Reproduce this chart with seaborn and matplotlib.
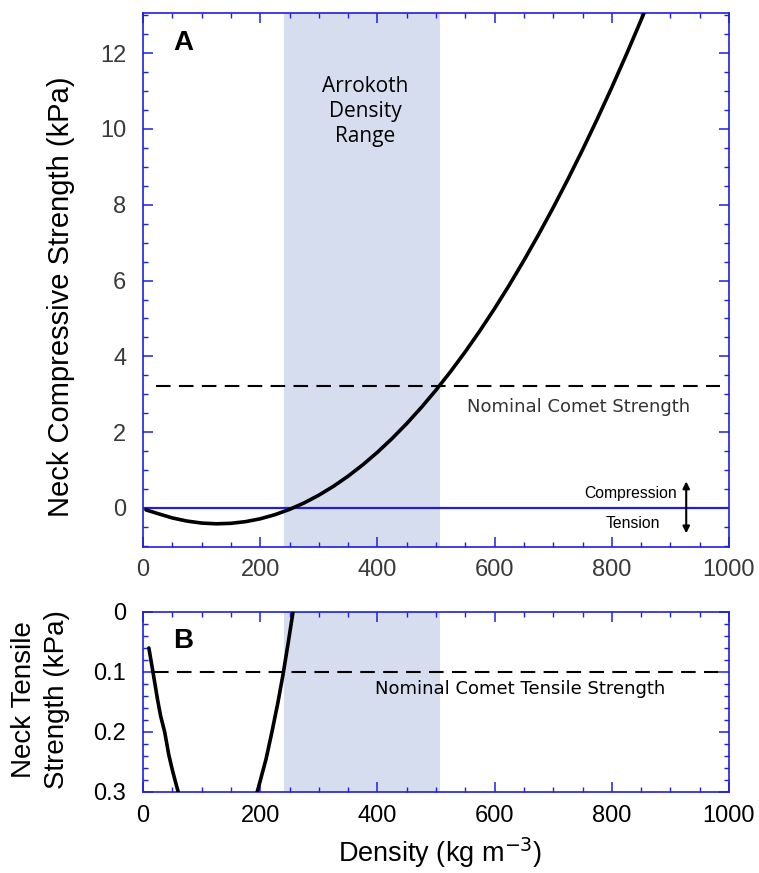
import numpy as np
import seaborn as sns
import matplotlib.pyplot as plt
from matplotlib.ticker import MultipleLocator

# values
density = [5, 25, 50, 75, 100, 125, 150, 175, 200, 225, 250, 275, 300, 325, 350,
           375, 400, 425, 450, 475, 500, 525, 550, 575, 600, 625, 650, 675, 700,
           725, 750, 775, 800, 825, 850, 875]
compressive_kpa = [-0.05, -0.147, -0.263, -0.346, -0.398, -0.418, -0.405, -0.361,
                   -0.286, -0.178, -0.038, 0.133, 0.337, 0.572, 0.839, 1.138, 1.469,
                   1.832, 2.226, 2.653, 3.111, 3.601, 4.123, 4.677, 5.263, 5.880,
                   6.531, 7.213, 7.925, 8.671, 9.448, 10.257, 11.098, 11.970, 12.875,
                   13.81]

tension_density = [10, 17, 25, 30, 37, 44, 50, 57, 63, 75, 100, 125, 150, 175, 196,
                   210, 220, 230, 239, 248, 256]
tension_kpa = [0.06, 0.10, 0.147, 0.173, 0.20, 0.238, 0.263, 0.289, 0.31, 0.346,
               0.398, 0.418, 0.405, 0.361, 0.296, 0.245, 0.20, 0.152, 0.104, 0.05,
               0.0]

arrokoth_range = (240, 506)
nominal_strength = 3.22
nominal_tensile = 0.10

x_ticks = [0, 200, 400, 600, 800, 1000]
a_yticks = [0, 2, 4, 6, 8, 10, 12]
b_yticks = [0, 0.1, 0.2, 0.3]
b_yticklabels = ["0", "0.1", "0.2", "0.3"]

sns.set_style("ticks")
plt.rcParams['font.family'] = ['Liberation Sans', 'DejaVu Sans']
plt.rcParams['text.color'] = 'black'

BLUE = "#1f1fe0"
BAND = "#d5ddee"

fig = plt.figure(figsize=(7.59, 8.73), dpi=100)
ax_a = fig.add_axes([143 / 759, 1 - 547 / 873, 586 / 759, 534 / 873])
ax_b = fig.add_axes([143 / 759, 1 - 792 / 873, 586 / 759, 180 / 873])


def style_axes(ax, label_color):
    for sp in ax.spines.values():
        sp.set_color(BLUE)
        sp.set_linewidth(1.2)
        sp.set_visible(True)
    ax.tick_params(which="both", direction="in", top=True, right=True,
                   color=BLUE, labelcolor=label_color, labelsize=17)
    ax.tick_params(which="major", length=7, width=1.1)
    ax.tick_params(which="minor", length=3.5, width=1.0)
    ax.tick_params(axis="y", pad=12)
    ax.tick_params(axis="x", pad=9)
    ax.set_xticks(x_ticks)
    ax.xaxis.set_minor_locator(MultipleLocator(50))
    ax.set_xlim(0, 1000)


# ---- panel A ----
ax_a.axvspan(*arrokoth_range, color=BAND, lw=0, zorder=0)
ax_a.axhline(0, color=BLUE, lw=1.6, zorder=2)
ax_a.hlines(nominal_strength, 22, 985, colors="black", linestyles=(0, (7, 4)),
            lw=1.5, zorder=2)
sns.lineplot(x=density, y=compressive_kpa, ax=ax_a, color="black", lw=2.6,
             sort=False, estimator=None, zorder=3)
ax_a.set_ylim(-1.03, 13.06)
ax_a.set_yticks(a_yticks)
ax_a.yaxis.set_minor_locator(MultipleLocator(0.5))
style_axes(ax_a, "#3a3a3a")
ax_a.set_xlabel("")
ax_a.set_ylabel("")

ax_a.text(68, 12.27, "A", fontsize=20, fontweight="bold", ha="center", va="center",
          color="black")
ax_a.text(379, 10.47, "Arrokoth\nDensity\nRange", fontsize=15, family="Open Sans",
          ha="center", va="center", linespacing=1.25, color="black")
ax_a.text(744, 2.66, "Nominal Comet Strength", fontsize=13, family="DejaVu Sans",
          ha="center", va="center", color="#333333")
ax_a.text(911, 0.37, "Compression", fontsize=11.3, ha="right", va="center",
          color="black")
ax_a.text(882, -0.40, "Tension", fontsize=11.3, ha="right", va="center",
          color="black")
ax_a.annotate("", xy=(927, 0.70), xytext=(927, -0.67),
              arrowprops=dict(arrowstyle="<|-|>", color="black", lw=1.5,
                              mutation_scale=10, shrinkA=0, shrinkB=0))

# ---- panel B ----
ax_b.axvspan(*arrokoth_range, color=BAND, lw=0, zorder=0)
ax_b.hlines(nominal_tensile, 19, 990, colors="black", linestyles=(0, (7, 4)),
            lw=1.5, zorder=2)
sns.lineplot(x=tension_density, y=tension_kpa, ax=ax_b, color="black", lw=2.6,
             sort=False, estimator=None, zorder=3)
ax_b.set_ylim(0.3, 0)
ax_b.set_yticks(b_yticks)
ax_b.set_yticklabels(b_yticklabels)
ax_b.yaxis.set_minor_locator(MultipleLocator(0.02))
style_axes(ax_b, "black")
ax_b.set_xlabel("")
ax_b.set_ylabel("")

ax_b.text(68, 0.049, "B", fontsize=20, fontweight="bold", ha="center", va="center",
          color="black")
ax_b.text(643, 0.128, "Nominal Comet Tensile Strength", fontsize=13,
          family="DejaVu Sans", ha="center", va="center", color="black")

# axis titles
fig.text(61 / 759, 1 - 297 / 873, "Neck Compressive Strength (kPa)", fontsize=21,
         rotation=90, ha="center", va="center", color="black")
fig.text(41 / 759, 1 - 700 / 873, "Neck Tensile\nStrength (kPa)", fontsize=20,
         rotation=90, ha="center", va="center", linespacing=1.35, color="black")
fig.text(440 / 759, 1 - 853 / 873, "Density (kg m$^{-3}$)", fontsize=19.5,
         ha="center", va="center", color="black")

fig.savefig("out.png", dpi=100)
